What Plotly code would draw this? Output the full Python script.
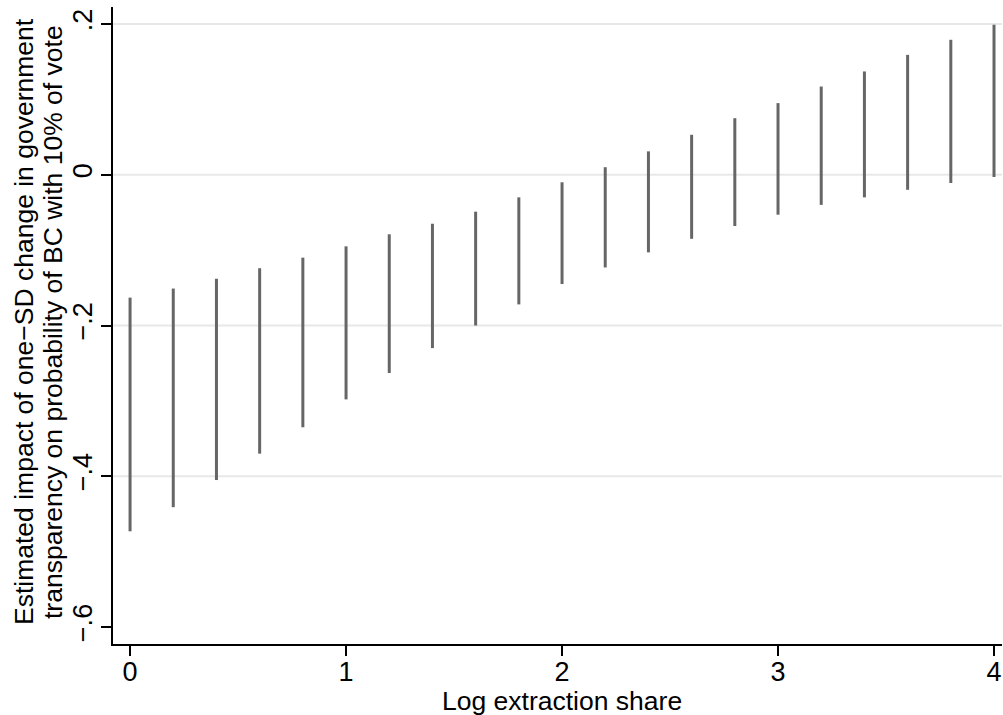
import plotly.graph_objects as go

x_vals = [0.0, 0.2, 0.4, 0.6, 0.8, 1.0, 1.2, 1.4, 1.6, 1.8, 2.0,
          2.2, 2.4, 2.6, 2.8, 3.0, 3.2, 3.4, 3.6, 3.8, 4.0]
upper = [-0.163, -0.151, -0.138, -0.124, -0.110, -0.095, -0.079, -0.065, -0.049, -0.030, -0.010,
         0.010, 0.031, 0.053, 0.075, 0.095, 0.117, 0.137, 0.159, 0.179, 0.199]
lower = [-0.473, -0.441, -0.405, -0.370, -0.335, -0.298, -0.263, -0.230, -0.200, -0.172, -0.145,
         -0.123, -0.103, -0.085, -0.068, -0.053, -0.040, -0.030, -0.020, -0.011, -0.003]

x_ticks = [0, 1, 2, 3, 4]
x_tick_labels = ["0", "1", "2", "3", "4"]
y_ticks = [-0.6, -0.4, -0.2, 0, 0.2]
y_tick_labels = ["\u2212.6", "\u2212.4", "\u2212.2", "0", ".2"]
grid_values = [-0.4, -0.2, 0, 0.2]

x_title = "Log extraction share"
y_title_lines = ["Estimated impact of one\u2212SD change in government",
                 "transparency on probability of BC with 10% of vote"]

xs, ys = [], []
for xv, lo, hi in zip(x_vals, lower, upper):
    xs += [xv, xv, None]
    ys += [lo, hi, None]

fig = go.Figure()
fig.add_trace(go.Scatter(x=xs, y=ys, mode="lines",
                         line=dict(color="#666666", width=3),
                         hoverinfo="skip", showlegend=False, cliponaxis=False))

for g in grid_values:
    fig.add_shape(type="line", xref="paper", x0=0, x1=1, yref="y", y0=g, y1=g,
                  line=dict(color="#e8e8e8", width=2), layer="below")

TS = 26.5
fig.add_annotation(text=x_title, xref="paper", yref="paper", x=0.505, y=0,
                   xanchor="center", yanchor="middle", yshift=-57, showarrow=False,
                   font=dict(size=TS))
for shift, line in zip([-89, -60], y_title_lines):
    fig.add_annotation(text=line, xref="paper", yref="paper", x=0, y=0.5055,
                       xanchor="center", yanchor="middle", xshift=shift, textangle=-90,
                       showarrow=False, font=dict(size=TS))

font = "Liberation Sans, Arial, Helvetica, sans-serif"
fig.update_layout(
    width=1003, height=715,
    margin=dict(l=113, r=1, t=7, b=71, autoexpand=False),
    paper_bgcolor="white", plot_bgcolor="white",
    font=dict(family=font, size=27, color="black"),
    xaxis=dict(range=[-0.079, 4.037], tickvals=x_ticks, ticktext=x_tick_labels,
               automargin=False,
               showgrid=False, zeroline=False, showline=True, linecolor="black", linewidth=2,
               ticks="outside", ticklen=10, tickwidth=2, tickcolor="black",
               tickfont=dict(size=27), ticklabelstandoff=-7),
    yaxis=dict(range=[-0.6225, 0.2225], tickvals=y_ticks, ticktext=y_tick_labels,
               tickangle=-90, automargin=False,
               showgrid=False, zeroline=False, showline=True, linecolor="black", linewidth=2,
               ticks="outside", ticklen=10, tickwidth=2, tickcolor="black",
               tickfont=dict(size=27), ticklabelstandoff=-2),
)

fig.write_html("out.html", config={"displayModeBar": False},
               post_script="document.body.style.margin='0';document.body.style.overflow='hidden';")
